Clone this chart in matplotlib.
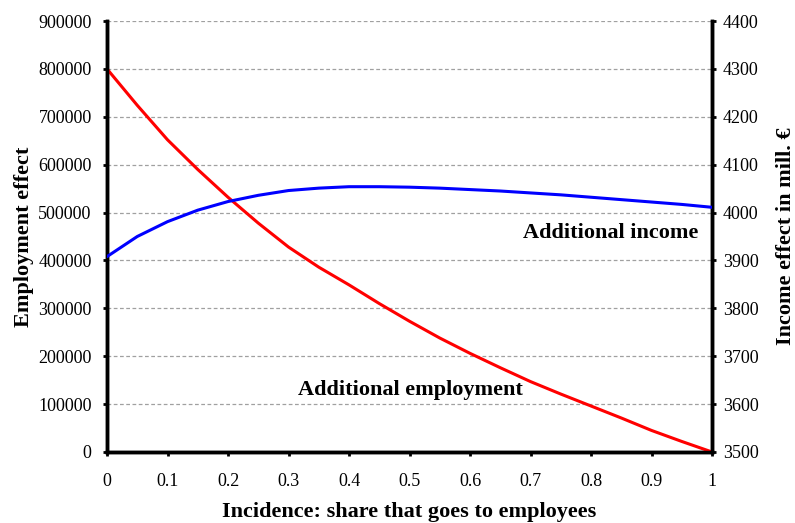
import numpy as np
import matplotlib
matplotlib.use("Agg")
import matplotlib.pyplot as plt

# Data (x every 0.05)
incidence = [0.0, 0.05, 0.1, 0.15, 0.2, 0.25, 0.3, 0.35, 0.4, 0.45, 0.5,
             0.55, 0.6, 0.65, 0.7, 0.75, 0.8, 0.85, 0.9, 0.95, 1.0]
employment = [800000, 724000, 652000, 590000, 532000, 478000, 428000, 386000,
              349000, 310000, 273000, 238000, 206000, 176000, 147000, 121000,
              96000, 71000, 45000, 22000, 0]
income = [3908, 3950, 3981, 4005, 4023, 4036, 4046, 4051, 4054, 4054, 4053,
          4051, 4048, 4045, 4041, 4037, 4032, 4027, 4022, 4017, 4011]

x_ticks = [0, 0.1, 0.2, 0.3, 0.4, 0.5, 0.6, 0.7, 0.8, 0.9, 1]
x_ticklabels = ["0", "0.1", "0.2", "0.3", "0.4", "0.5", "0.6", "0.7", "0.8", "0.9", "1"]
left_ticks = [0, 100000, 200000, 300000, 400000, 500000, 600000, 700000, 800000, 900000]
right_ticks = [3500, 3600, 3700, 3800, 3900, 4000, 4100, 4200, 4300, 4400]

plt.rcParams["font.family"] = ["Liberation Serif", "DejaVu Serif"]

fig = plt.figure(figsize=(7.95, 5.23), dpi=100)
ax = fig.add_axes([0.1346, 0.1358, 0.761, 0.824])
ax2 = ax.twinx()

ax.plot(incidence, employment, color="#ff0000", lw=2.2, solid_capstyle="round", zorder=3)
ax2.plot(incidence, income, color="#0000ff", lw=2.2, solid_capstyle="round", zorder=3)

ax.set_xlim(0, 1)
ax.set_ylim(0, 900000)
ax2.set_ylim(3500, 4400)

ax.set_xticks(x_ticks)
ax.set_xticklabels(x_ticklabels)
ax.set_yticks(left_ticks)
ax.set_yticklabels([str(v) for v in left_ticks])
ax2.set_yticks(right_ticks)
ax2.set_yticklabels([str(v) for v in right_ticks])

ax.yaxis.grid(True, linestyle=(0, (3, 2)), color="#a0a0a0", lw=0.9)
ax.set_axisbelow(True)

for a in (ax, ax2):
    a.spines["top"].set_visible(False)
    for side in ("left", "right", "bottom"):
        a.spines[side].set_linewidth(2.5)
        a.spines[side].set_color("black")
    a.tick_params(axis="both", direction="out", length=3, width=2, labelsize=13,
                  pad=8)
ax.tick_params(axis="x", pad=12)
ax2.tick_params(axis="y", pad=5)

ax.set_xlabel("Incidence: share that goes to employees", fontsize=16,
              fontweight="bold")
ax.set_ylabel("Employment effect", fontsize=16, fontweight="bold")
ax2.set_ylabel("Income effect in mill. €", fontsize=16, fontweight="bold")
ax.xaxis.set_label_coords(0.5, -0.116)
ax.yaxis.set_label_coords(-0.12, 0.5)
ax2.yaxis.set_label_coords(1.106, 0.5)

ax.text(0.977, 458000, "Additional income", fontsize=16, fontweight="bold",
        ha="right", va="center")
ax.text(0.502, 129000, "Additional employment", fontsize=16, fontweight="bold",
        ha="center", va="center")

fig.savefig("out.png", dpi=100)
